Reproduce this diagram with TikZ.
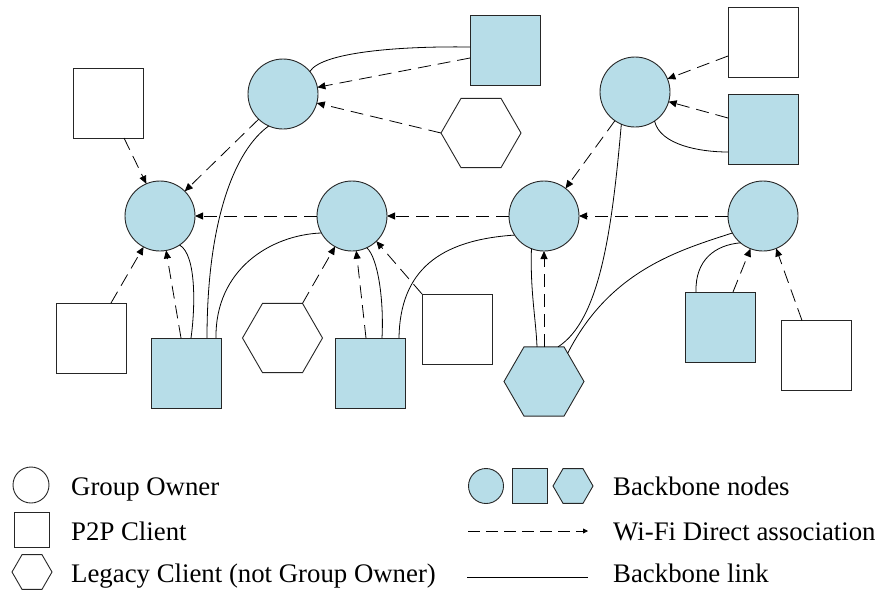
\documentclass[tikz,border=0pt]{standalone}
\usepackage{fontspec}
\setmainfont{Liberation Serif}
\usetikzlibrary{shapes.geometric,arrows.meta,calc}
\definecolor{bbblue}{RGB}{183,221,232}
\begin{document}
\begin{tikzpicture}[x=1pt,y=-1pt,
 shp/.style={draw=black!85,line width=0.9pt,inner sep=0pt,outer sep=0pt},
 gocirc/.style={shp,circle,minimum size=70pt},
 sq/.style={shp,rectangle,minimum size=70pt},
 hexa/.style={shp,regular polygon,regular polygon sides=6,minimum size=80pt},
 bb/.style={fill=bbblue},
 assoc/.style={line width=0.8pt,dash pattern=on 13pt off 7pt,-{Triangle[length=8pt,width=7pt]}},
 link/.style={line width=0.8pt},
 lbl/.style={anchor=base west,inner sep=0pt,font=\fontsize{26.8}{32}\selectfont}]
\useasboundingbox (0,0) rectangle (882,592);
% nodes
\node[gocirc,bb] (C1) at (283,94) {};
\node[gocirc,bb] (C2) at (635,92) {};
\node[gocirc,bb] (C3) at (160,216) {};
\node[gocirc,bb] (C4) at (352,216) {};
\node[gocirc,bb] (C5) at (544,216) {};
\node[gocirc,bb] (C6) at (763,216) {};
\node[sq] (S1) at (108,103) {};
\node[sq,bb] (S2) at (505,50) {};
\node[hexa] (H1) at (481,133) {};
\node[sq] (S3) at (763,42) {};
\node[sq,bb] (S4) at (763,129) {};
\node[sq] (S5) at (91,338) {};
\node[sq,bb] (S6) at (186.5,373) {};
\node[hexa] (H2) at (282.5,338) {};
\node[sq,bb] (S7) at (370,373) {};
\node[sq] (S8) at (457,329) {};
\node[hexa,bb] (H3) at (544,381.5) {};
\node[sq,bb] (S9) at (720,327) {};
\node[sq] (S10) at (816,355.5) {};
% upper left group
\draw[assoc] ($(S1.south)+(16,0)$) -- (C3.113);
\draw[assoc] (C1.-134) -- (C3.45);
\draw[assoc] ($(S2.west)+(0,8)$) -- (C1.11);
\draw[link] (C1.40) .. controls (322,52) and (400,46) .. ($(S2.west)+(0,-3)$);
\draw[assoc] (H1.west) -- (C1.-15);
\draw[link] (C1.-114) .. controls (235,150) and (207,220) .. ($(S6.north)+(20.5,0)$);
% upper right group
\draw[assoc] ($(S3.west)+(0,14)$) -- (C2.22);
\draw[assoc] ($(S4.west)+(0,-11)$) -- (C2.-16);
\draw[link] (C2.-56) .. controls (660,145) and (700,152) .. ($(S4.west)+(0,23)$);
\draw[assoc] (C2.-125) -- (C5.52);
\draw[link] (C2.-113) .. controls (612,230) and (600,320) .. ($(H3.north)+(14,0)$);
% horizontal chain
\draw[assoc] (C4.west) -- (C3.east);
\draw[assoc] (C5.west) -- (C4.east);
\draw[assoc] (C6.west) -- (C5.east);
% lower groups
\draw[assoc] ($(S5.north)+(20,0)$) -- (C3.-118);
\draw[assoc] ($(S6.north)+(-5.5,0)$) -- (C3.-80);
\draw[link] (C3.-56) .. controls (197,255) and (195,310) .. ($(S6.north)+(4.5,0)$);
\draw[link] ($(S6.north)+(29.5,0)$) .. controls (215,270) and (270,235) .. (C4.-151);
\draw[assoc] (H2.60) -- (C4.-119);
\draw[assoc] ($(S7.north)+(-4,0)$) -- (C4.-83);
\draw[link] (C4.-65) .. controls (378,258) and (384,300) .. ($(S7.north)+(12,0)$);
\draw[assoc] (S8.north west) -- (C4.-46);
\draw[link] ($(S7.north)+(29,0)$) .. controls (400,270) and (440,240) .. (C5.-147);
\draw[assoc] (H3.north) -- (C5.south);
\draw[link] (C5.-111) .. controls (530,290) and (536,320) .. ($(H3.north)+(-7,0)$);
\draw[link] (H3.50) .. controls (610,270) and (680,250) .. (C6.-151);
\draw[link] ($(S9.north)+(-24,0)$) .. controls (695,260) and (715,245) .. (C6.-130);
\draw[assoc] ($(S9.north)+(13,0)$) -- (C6.-111);
\draw[assoc] ($(S10.north)+(-14,0)$) -- (C6.-68);
% legend
\node[shp,circle,minimum size=36pt] (LGO) at (31,485) {};
\node[shp,rectangle,minimum size=35pt] (LP2P) at (31.5,529.5) {};
\node[shp,regular polygon,regular polygon sides=6,minimum size=40pt] (LLC) at (32,572) {};
\node[lbl] (TGO) at (71,495) {Group Owner};
\node[lbl] (TP2P) at (71,540) {P2P Client};
\node[lbl] (TLC) at (71,582.5) {Legacy Client (not Group Owner)};
\node[shp,circle,bb,minimum size=35pt] (LB1) at (486,486) {};
\node[shp,rectangle,bb,minimum size=35pt] (LB2) at (529.5,486) {};
\node[shp,regular polygon,regular polygon sides=6,bb,minimum size=40pt] (LB3) at (573,486) {};
\coordinate (LA1) at (468,531);
\coordinate (LA2) at (588,531);
\draw[line width=0.8pt,dash pattern=on 12pt off 6pt,-{Triangle[length=5pt,width=5pt]}] (LA1) -- (LA2);
\coordinate (LL1) at (467,577);
\coordinate (LL2) at (588,577);
\draw[link] (LL1) -- (LL2);
\node[lbl] (TBN) at (613,495) {Backbone nodes};
\node[lbl] (TWD) at (613,540) {Wi-Fi Direct association};
\node[lbl] (TBL) at (613,582) {Backbone link};
\end{tikzpicture}
\end{document}
